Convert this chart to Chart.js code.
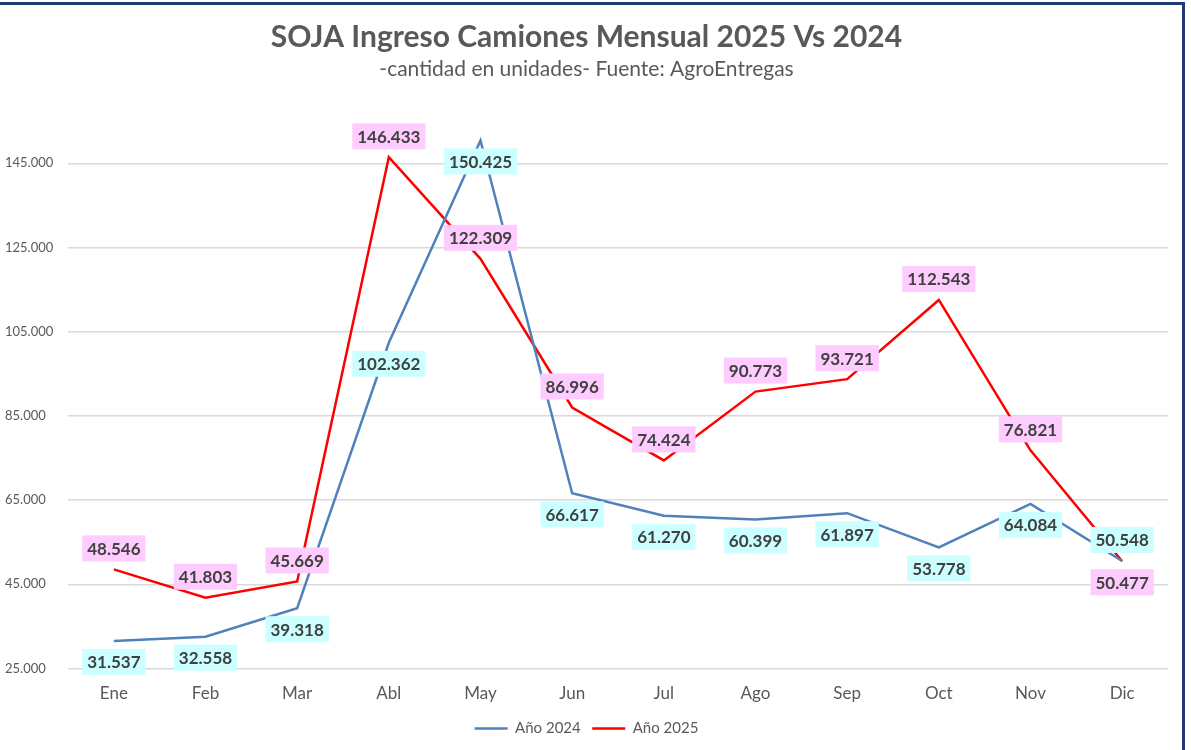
<!DOCTYPE html>
<html>
<head>
<meta charset="utf-8">
<script src="https://cdn.jsdelivr.net/npm/chart.js@4"></script>
<style>
    html, body { margin: 0; padding: 0; background: #fff; }
    .frame {
        position: absolute; left: 0; top: 2px;
        width: 1185px; height: 748px;
        border-top: 3px solid #203a78;
        border-right: 3px solid #203a78;
        box-sizing: border-box;
    }
    #chart { position: absolute; left: 0; top: 0; }
</style>
</head>
<body>
<div class="frame"></div>
<canvas id="chart" width="1191" height="750"></canvas>
<script>
// data
const months = ['Ene', 'Feb', 'Mar', 'Abl', 'May', 'Jun', 'Jul', 'Ago', 'Sep', 'Oct', 'Nov', 'Dic'];
const year2024 = [31537, 32558, 39318, 102362, 150425, 66617, 61270, 60399, 61897, 53778, 64084, 50548];
const year2025 = [48546, 41803, 45669, 146433, 122309, 86996, 74424, 90773, 93721, 112543, 76821, 50477];
const yTicks = [25000, 45000, 65000, 85000, 105000, 125000, 145000];

// where each data label sits relative to its point
const labelPos2024 = ['below', 'below', 'below', 'below', 'below', 'below', 'below', 'below', 'below', 'below', 'below', 'above'];
const labelPos2025 = ['above', 'above', 'above', 'above', 'above', 'above', 'above', 'above', 'above', 'above', 'above', 'below'];

const FONT = 'Lato, "Open Sans", sans-serif';

function fmt(v) {
    return String(v).replace(/\B(?=(\d{3})+(?!\d))/g, '.');
}

const boxLabels = {
    id: 'boxLabels',
    afterDatasetsDraw(chart) {
        const ctx = chart.ctx;
        ctx.save();
        ctx.font = 'bold 17px ' + FONT;
        ctx.textAlign = 'center';
        ctx.textBaseline = 'middle';
        chart.data.datasets.forEach((ds, i) => {
            const meta = chart.getDatasetMeta(i);
            meta.data.forEach((pt, j) => {
                const text = fmt(ds.data[j]);
                const dy = ds.labelPos[j] === 'above' ? -21 : 21;
                const cx = pt.x, cy = pt.y + dy;
                const w = ctx.measureText(text).width + 10;
                const h = 26;
                ctx.fillStyle = ds.labelBg;
                ctx.fillRect(cx - w / 2, cy - h / 2, w, h);
                ctx.fillStyle = '#404040';
                ctx.fillText(text, cx, cy + 1);
            });
        });
        ctx.restore();
    }
};

new Chart(document.getElementById('chart'), {
    type: 'line',
    data: {
        labels: months,
        datasets: [
            { label: 'Año 2024', data: year2024, borderColor: '#4f81bd', backgroundColor: '#4f81bd', borderWidth: 2.5, pointRadius: 0, tension: 0, labelPos: labelPos2024, labelBg: '#ccffff' },
            { label: 'Año 2025', data: year2025, borderColor: '#ff0000', backgroundColor: '#ff0000', borderWidth: 2.5, pointRadius: 0, tension: 0, labelPos: labelPos2025, labelBg: '#ffccff' }
        ]
    },
    options: {
        responsive: false,
        animation: false,
        layout: { padding: { left: 5, right: 23, top: 19, bottom: 4 } },
        plugins: {
            title: {
                display: true,
                text: 'SOJA Ingreso Camiones Mensual 2025 Vs 2024',
                color: '#595959',
                font: { family: FONT, size: 30, weight: 'bold' },
                padding: { top: 0, bottom: 2 }
            },
            subtitle: {
                display: true,
                text: '-cantidad en unidades- Fuente: AgroEntregas',
                color: '#595959',
                font: { family: FONT, size: 21 },
                padding: { top: 0, bottom: 39 }
            },
            legend: {
                position: 'bottom',
                labels: {
                    usePointStyle: true,
                    pointStyle: 'line',
                    pointStyleWidth: 33,
                    color: '#595959',
                    font: { family: FONT, size: 15 },
                    padding: 11.5
                }
            },
            tooltip: { enabled: false }
        },
        scales: {
            x: {
                offset: true,
                afterFit: (scale) => { scale.height = 41; },
                grid: { display: false },
                border: { display: false },
                ticks: { color: '#595959', font: { family: FONT, size: 17 }, padding: 7 }
            },
            y: {
                min: 25000,
                max: 155000,
                afterBuildTicks: (scale) => { scale.ticks = yTicks.map(v => ({ value: v })); },
                afterFit: (scale) => { scale.width = 63; },
                grid: { color: '#d9d9d9', lineWidth: 1.5, drawTicks: false },
                border: { display: false },
                ticks: {
                    color: '#595959',
                    font: { family: FONT, size: 13 },
                    crossAlign: 'far',
                    padding: 8,
                    callback: (v) => fmt(v)
                }
            }
        }
    },
    plugins: [boxLabels]
});
</script>
</body>
</html>
